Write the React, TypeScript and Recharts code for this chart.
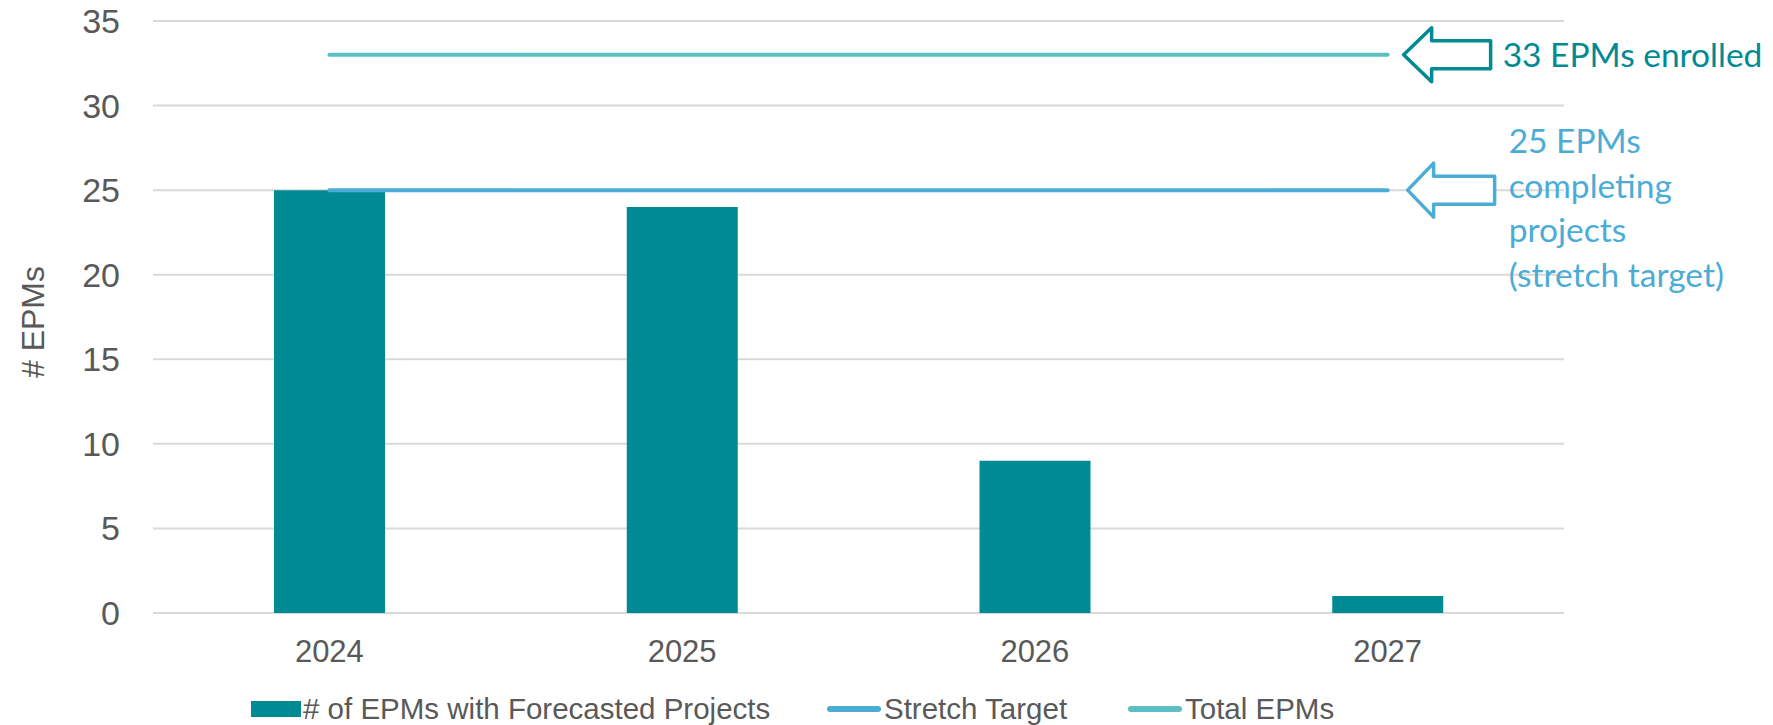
import {
  ComposedChart, Bar, Line, XAxis, YAxis, CartesianGrid, Legend, ReferenceDot, Label
} from "recharts";

const years = ["2024", "2025", "2026", "2027"];
const forecasted = [25, 24, 9, 1];
const stretchTarget = [25, 25, 25, 25];
const totalEpms = [33, 33, 33, 33];
const yTicks = [0, 5, 10, 15, 20, 25, 30, 35];

const data = years.map((year, i) => ({
  year,
  forecasted: forecasted[i],
  stretch: stretchTarget[i],
  total: totalEpms[i],
}));

const BAR = "#008A93";
const STRETCH = "#4BACD6";
const TOTAL = "#5BBFC3";
const GREY = "#595959";
const SANS = "'Liberation Sans', Arial, sans-serif";
const NOTE = "Lato, 'Noto Sans', sans-serif";

if (typeof document !== "undefined") {
  document.body.style.margin = "0";
  document.body.style.overflow = "hidden";
}

// outlined left arrow + note text, placed next to a line end
function ArrowNote(props: any) {
  const { cx, cy, color, tip, back, end, textX, lines, baselines } = props;
  if (cx == null || cy == null) return null;
  const h = 27, s = 14;
  const pts = [
    [cx + tip, cy], [cx + back, cy - h], [cx + back, cy - s], [cx + end, cy - s],
    [cx + end, cy + s], [cx + back, cy + s], [cx + back, cy + h],
  ].map(p => p.join(",")).join(" ");
  return (
    <g>
      <polygon points={pts} fill="#fff" stroke={color} strokeWidth={3.5} strokeLinejoin="round" />
      {lines.map((t: string, i: number) => (
        <text key={i} x={cx + textX} y={cy + baselines[i]} fill={color}
          fontFamily={NOTE} fontSize={33.5}>{t}</text>
      ))}
    </g>
  );
}

const renderLegend = () => (
  <div style={{ position: "relative", height: 32, fontFamily: SANS, fontSize: 29.5, color: GREY, whiteSpace: "nowrap" }}>
    <div style={{ position: "absolute", left: 251, top: 8, width: 50, height: 16, background: BAR }} />
    <div style={{ position: "absolute", left: 303, top: 0, lineHeight: "32px" }}># of EPMs with Forecasted Projects</div>
    <svg style={{ position: "absolute", left: 826, top: 11 }} width={56} height={10}>
      <line x1={4} x2={52} y1={5} y2={5} stroke={STRETCH} strokeWidth={6} strokeLinecap="round" />
    </svg>
    <div style={{ position: "absolute", left: 884, top: 0, lineHeight: "32px" }}>Stretch Target</div>
    <svg style={{ position: "absolute", left: 1127, top: 11 }} width={56} height={10}>
      <line x1={4} x2={52} y1={5} y2={5} stroke={TOTAL} strokeWidth={6} strokeLinecap="round" />
    </svg>
    <div style={{ position: "absolute", left: 1185, top: 0, lineHeight: "32px" }}>Total EPMs</div>
  </div>
);

export default function App() {
  return (
    <div style={{ width: 1773, height: 725, background: "#fff", overflow: "hidden" }}>
      <ComposedChart width={1773} height={725} data={data}
        margin={{ top: 21, right: 209, left: 0, bottom: 0 }}>
        <CartesianGrid vertical={false} stroke="#D9D9D9" strokeWidth={2} />
        <XAxis dataKey="year" axisLine={false} tickLine={false} tickSize={0} tickMargin={27}
          height={80} tick={{ fill: GREY, fontSize: 31, fontFamily: SANS }} />
        <YAxis domain={[0, 35]} ticks={yTicks} axisLine={false} tickLine={false} tickSize={0}
          tickMargin={33} width={153} tick={{ fill: GREY, fontSize: 34, fontFamily: SANS }}>
          <Label value="# EPMs" angle={-90} position="center" dx={-44} dy={5}
            fill={GREY} fontSize={32} fontFamily={SANS} />
        </YAxis>
        <Legend verticalAlign="bottom" align="left" content={renderLegend}
          wrapperStyle={{ left: 0, top: 693, bottom: "auto", width: 1773, height: 32 }} />
        <Bar dataKey="forecasted" name="# of EPMs with Forecasted Projects" fill={BAR}
          barSize={111} isAnimationActive={false} />
        <Line dataKey="stretch" name="Stretch Target" stroke={STRETCH} strokeWidth={4}
          strokeLinecap="round" dot={false} activeDot={false} isAnimationActive={false} />
        <Line dataKey="total" name="Total EPMs" stroke={TOTAL} strokeWidth={4}
          strokeLinecap="round" dot={false} activeDot={false} isAnimationActive={false} />
        <ReferenceDot x="2027" y={33} shape={(p: any) => (
          <ArrowNote {...p} color={BAR} tip={16} back={44} end={103} textX={115}
            lines={["33 EPMs enrolled"]} baselines={[12]} />
        )} />
        <ReferenceDot x="2027" y={25} shape={(p: any) => (
          <ArrowNote {...p} color={STRETCH} tip={20} back={46} end={107} textX={121}
            lines={["25 EPMs", "completing", "projects", "(stretch target)"]}
            baselines={[-37, 7.5, 52, 96.5]} />
        )} />
      </ComposedChart>
    </div>
  );
}
